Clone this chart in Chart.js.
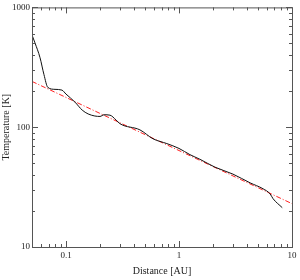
<!DOCTYPE html>
<html>
<head>
<meta charset="utf-8">
<script src="https://cdn.jsdelivr.net/npm/chart.js@4/dist/chart.umd.min.js"></script>
<style>
  html, body { margin: 0; padding: 0; background: #fff; }
  #wrap { width: 300px; height: 280px; }
</style>
</head>
<body>
<div id="wrap"><canvas id="tempChart" width="300" height="280"></canvas></div>
<script>
// Profil de température (modèle) et ajustement en loi de puissance
const distance = [0.05, 0.0531, 0.0589, 0.0638, 0.069, 0.0799, 0.092, 0.1, 0.12, 0.139, 0.157, 0.18, 0.2, 0.217, 0.245, 0.277, 0.30, 0.451, 0.589, 0.78, 1.0, 1.25, 1.53, 2.08, 3.0, 4.26, 5.55, 6.39, 6.8, 8.2];
const temperature = [589, 506, 380, 275, 215, 207, 204, 189, 162, 139, 129, 124, 123, 127, 126, 115, 107, 95, 80, 73, 66.5, 59, 54, 46.4, 40.6, 34.3, 30.6, 27.8, 25.3, 21.3];
const fitDistance = [0.05, 10];
const fitTemperature = [241, 23];

const xTicks = [0.05, 0.06, 0.07, 0.08, 0.09, 0.1, 0.2, 0.3, 0.4, 0.5, 0.6, 0.7, 0.8, 0.9, 1, 2, 3, 4, 5, 6, 7, 8, 9, 10];
const yTicks = [10, 20, 30, 40, 50, 60, 70, 80, 90, 100, 200, 300, 400, 500, 600, 700, 800, 900, 1000];
const xLabels = ['0.1', '1', '10'];
const yLabels = ['10', '100', '1000'];

const axisColor = '#555';
const font = { family: '"Liberation Serif", "DejaVu Serif", serif', size: 9 };
const titleFont = { family: '"Liberation Serif", "DejaVu Serif", serif', size: 10 };

function isDecade(v) {
    const l = Math.log10(v);
    return Math.abs(l - Math.round(l)) < 1e-6;
}

// cadre + graduations vers l'intérieur sur les 4 côtés
const frameTicks = {
    id: 'frameTicks',
    afterDraw(chart) {
        const { ctx, chartArea: a, scales } = chart;
        ctx.save();
        ctx.strokeStyle = axisColor;
        ctx.lineWidth = 1;
        ctx.strokeRect(a.left + 0.5, a.top + 0.5, a.right - a.left, a.bottom - a.top);
        ctx.beginPath();
        xTicks.forEach(v => {
            const x = Math.round(scales.x.getPixelForValue(v)) + 0.5;
            const len = isDecade(v) ? 6 : 3;
            ctx.moveTo(x, a.bottom); ctx.lineTo(x, a.bottom - len);
            ctx.moveTo(x, a.top); ctx.lineTo(x, a.top + len);
        });
        yTicks.forEach(v => {
            const y = Math.round(scales.y.getPixelForValue(v)) + 0.5;
            const len = isDecade(v) ? 6 : 3;
            ctx.moveTo(a.left, y); ctx.lineTo(a.left + len, y);
            ctx.moveTo(a.right, y); ctx.lineTo(a.right - len, y);
        });
        ctx.stroke();
        ctx.restore();
    }
};

new Chart(document.getElementById('tempChart').getContext('2d'), {
    type: 'line',
    data: {
        datasets: [{
            data: distance.map((d, i) => ({ x: d, y: temperature[i] })),
            borderColor: '#111',
            borderWidth: 1,
            pointRadius: 0,
            cubicInterpolationMode: 'monotone',
            fill: false
        }, {
            data: fitDistance.map((d, i) => ({ x: d, y: fitTemperature[i] })),
            borderColor: '#ff2020',
            borderWidth: 1,
            borderDash: [5, 2, 1, 2],
            pointRadius: 0,
            fill: false
        }]
    },
    options: {
        responsive: false,
        animation: false,
        layout: { padding: { top: 4, right: 8, left: 0, bottom: 0 } },
        plugins: {
            legend: { display: false },
            tooltip: { enabled: false }
        },
        scales: {
            x: {
                type: 'logarithmic',
                min: 0.05,
                max: 10,
                border: { display: false },
                grid: { display: false, drawTicks: false },
                afterBuildTicks: s => { s.ticks = xTicks.map(v => ({ value: v })); },
                afterFit: s => { s.height = 33; },
                ticks: {
                    autoSkip: false,
                    maxRotation: 0,
                    padding: 3,
                    color: '#222',
                    font: font,
                    callback: v => (isDecade(v) && xLabels.includes(String(v)) ? String(v) : '')
                },
                title: {
                    display: true,
                    text: 'Distance [AU]',
                    color: '#222',
                    font: titleFont,
                    padding: { top: 0, bottom: 3 }
                }
            },
            y: {
                type: 'logarithmic',
                min: 10,
                max: 1000,
                border: { display: false },
                grid: { display: false, drawTicks: false },
                afterBuildTicks: s => { s.ticks = yTicks.map(v => ({ value: v })); },
                afterFit: s => { s.width = 32; },
                ticks: {
                    autoSkip: false,
                    padding: 2,
                    color: '#222',
                    font: font,
                    callback: v => (isDecade(v) && yLabels.includes(String(v)) ? String(v) : '')
                },
                title: {
                    display: true,
                    text: 'Temperature [K]',
                    color: '#222',
                    font: titleFont,
                    padding: { top: 0, bottom: 0 }
                }
            }
        }
    },
    plugins: [frameTicks]
});
</script>
</body>
</html>
